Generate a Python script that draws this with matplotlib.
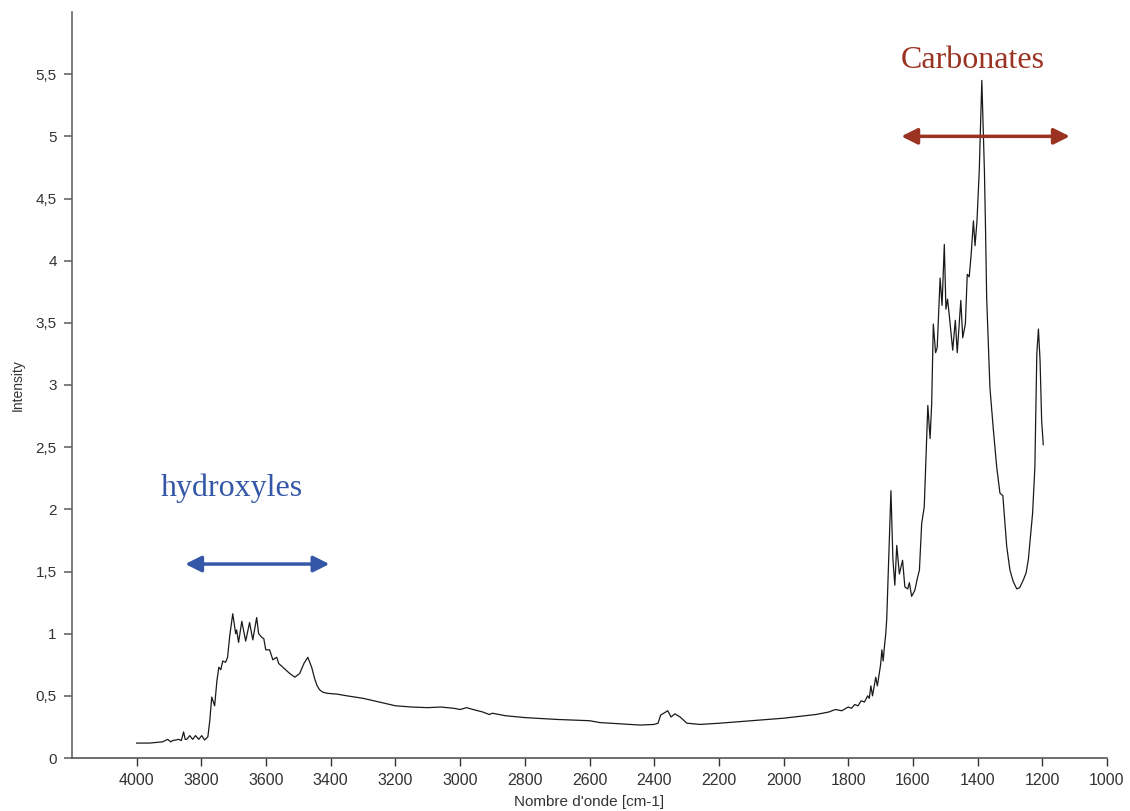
"""
Spectre IR : zones des hydroxyles et des carbonates
"""
import matplotlib
matplotlib.use("Agg")
import matplotlib.pyplot as plt
from matplotlib.ticker import FuncFormatter

wavenumber = [
    4000, 3960, 3920, 3904, 3895, 3889, 3870, 3862, 3855, 3850, 3845, 3836, 3827, 3818,
    3808, 3799, 3790, 3780, 3774, 3768, 3763, 3759, 3752, 3746, 3740, 3734, 3725, 3719,
    3712, 3703, 3694, 3691, 3685, 3675, 3663, 3651, 3641, 3629, 3623, 3613, 3607, 3601,
    3589, 3579, 3567, 3561, 3548, 3527, 3511, 3496, 3483, 3471, 3459, 3450, 3443, 3435,
    3425, 3410, 3381, 3350, 3300, 3250, 3200, 3150, 3100, 3060, 3020, 3000, 2980, 2960,
    2930, 2910, 2900, 2880, 2860, 2820, 2800, 2700, 2600, 2568, 2444, 2400, 2388, 2380,
    2358, 2348, 2336, 2320, 2299, 2259, 2197, 2100, 2000, 1950, 1900, 1860, 1840, 1820,
    1800, 1790, 1780, 1770, 1760, 1750, 1740, 1735, 1730, 1725, 1715, 1710, 1700, 1696,
    1692, 1688, 1684, 1681, 1675, 1668, 1662, 1656, 1650, 1642, 1632, 1625, 1616, 1611,
    1604, 1594, 1586, 1580, 1573, 1565, 1554, 1547, 1542, 1537, 1530, 1525, 1516, 1510,
    1503, 1498, 1493, 1488, 1477, 1469, 1463, 1452, 1446, 1438, 1432, 1426, 1420, 1413,
    1408, 1402, 1395, 1387, 1379, 1376, 1372, 1367, 1362, 1352, 1341, 1331, 1322, 1310,
    1300, 1290, 1279, 1270, 1259, 1250, 1243, 1230, 1223, 1217, 1212, 1207, 1202, 1197,
]
intensity = [
    0.12, 0.12, 0.13, 0.15, 0.13, 0.14, 0.15, 0.14, 0.21, 0.15, 0.15, 0.18, 0.15, 0.18,
    0.15, 0.18, 0.145, 0.17, 0.30, 0.49, 0.45, 0.42, 0.62, 0.73, 0.71, 0.78, 0.77, 0.81,
    0.99, 1.16, 1.00, 1.03, 0.93, 1.10, 0.94, 1.09, 0.95, 1.13, 1.00, 0.97, 0.96, 0.87,
    0.87, 0.79, 0.81, 0.76, 0.73, 0.68, 0.65, 0.68, 0.76, 0.81, 0.73, 0.64, 0.586, 0.55,
    0.53, 0.52, 0.514, 0.50, 0.48, 0.45, 0.42, 0.41, 0.405, 0.41, 0.40, 0.39, 0.405, 0.39,
    0.37, 0.35, 0.36, 0.35, 0.34, 0.33, 0.325, 0.31, 0.30, 0.285, 0.265, 0.27, 0.28, 0.345,
    0.38, 0.33, 0.355, 0.33, 0.28, 0.27, 0.28, 0.30, 0.32, 0.335, 0.35, 0.37, 0.39, 0.38,
    0.41, 0.40, 0.43, 0.42, 0.46, 0.45, 0.50, 0.48, 0.58, 0.50, 0.65, 0.58, 0.75, 0.87,
    0.78, 0.90, 1.00, 1.12, 1.60, 2.15, 1.60, 1.39, 1.71, 1.48, 1.59, 1.376, 1.36, 1.41,
    1.30, 1.35, 1.45, 1.51, 1.885, 2.02, 2.835, 2.57, 2.85, 3.49, 3.26, 3.30, 3.86, 3.64,
    4.13, 3.61, 3.69, 3.57, 3.28, 3.52, 3.26, 3.68, 3.38, 3.49, 3.89, 3.87, 4.05, 4.32,
    4.12, 4.32, 4.72, 5.45, 4.72, 4.32, 3.70, 3.33, 2.98, 2.66, 2.34, 2.13, 2.11, 1.70,
    1.51, 1.42, 1.36, 1.37, 1.43, 1.49, 1.60, 1.97, 2.34, 3.25, 3.45, 3.20, 2.71, 2.52,
]

# annotations (texte, position, fleche double)
hydroxyl_label = "hydroxyles"
hydroxyl_text_pos = (3706, 2.17)
hydroxyl_span = (3850, 3404, 1.56)
carbonate_label = "Carbonates"
carbonate_text_pos = (1414, 5.61)
carbonate_span = (1636, 1115, 5.0)

x_ticks = list(range(4000, 999, -200))
y_ticks = [0, 0.5, 1, 1.5, 2, 2.5, 3, 3.5, 4, 4.5, 5, 5.5]

plt.rcParams['font.family'] = ['Liberation Sans', 'DejaVu Sans']

fig = plt.figure(figsize=(11.3, 8.11), dpi=100, facecolor='white')
ax = fig.add_axes([72 / 1130, 1 - 758 / 811, (1107 - 72) / 1130, (758 - 12) / 811])

ax.plot(wavenumber, intensity, color='#1a1a1a', linewidth=0.9)

ax.set_xlim(4200, 1000)
ax.set_ylim(0, 6)
ax.set_xticks(x_ticks)
ax.set_yticks(y_ticks)
ax.yaxis.set_major_formatter(FuncFormatter(lambda v, p: f"{v:g}".replace('.', ',')))

# axes : seulement gauche et bas
for side in ['top', 'right']:
    ax.spines[side].set_visible(False)
ax.spines['left'].set_color('#666666')
ax.spines['bottom'].set_color('#555555')
ax.spines['left'].set_linewidth(1.2)
ax.spines['bottom'].set_linewidth(1.2)
ax.tick_params(axis='y', colors='#666666', labelcolor='#333333', length=6, width=1.2, labelsize=11, pad=5)
ax.tick_params(axis='x', colors='#333333', labelcolor='#333333', length=6, width=1.0, labelsize=11.5, pad=5)

ax.set_xlabel("Nombre d'onde [cm-1]", fontsize=11, color='#333333')
ax.xaxis.set_label_coords(0.5, -0.049)
ax.set_ylabel("Intensity", fontsize=10, color='#333333')
ax.yaxis.set_label_coords(-0.046, 0.5)

# zone hydroxyles
blue = '#3457a7'
ax.text(*hydroxyl_text_pos, hydroxyl_label, color=blue, fontsize=23,
        family='Liberation Serif', ha='center', va='center')
ax.annotate('', xy=(hydroxyl_span[1], hydroxyl_span[2]), xytext=(hydroxyl_span[0], hydroxyl_span[2]),
            arrowprops=dict(arrowstyle='<|-|>', color=blue, lw=2.5, mutation_scale=24,
                            shrinkA=0, shrinkB=0))

# zone carbonates
red = '#9b3322'
ax.text(*carbonate_text_pos, carbonate_label, color=red, fontsize=23,
        family='Liberation Serif', ha='center', va='center')
ax.annotate('', xy=(carbonate_span[1], carbonate_span[2]), xytext=(carbonate_span[0], carbonate_span[2]),
            arrowprops=dict(arrowstyle='<|-|>', color=red, lw=2.5, mutation_scale=24,
                            shrinkA=0, shrinkB=0))

plt.savefig('out.png', dpi=100, facecolor='white')
